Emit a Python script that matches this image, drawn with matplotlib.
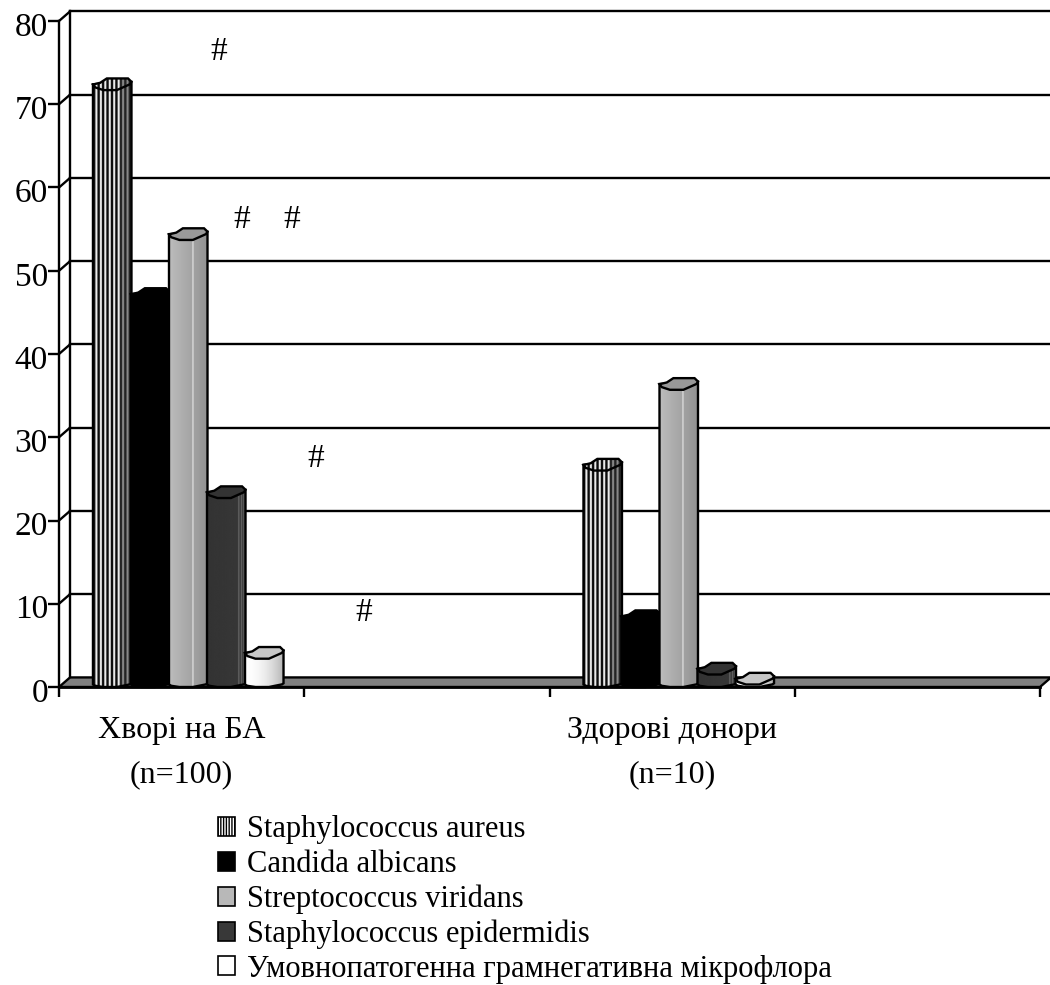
# _*_ coding: utf-8 _*_
import numpy as np
import matplotlib
matplotlib.use('Agg')
import matplotlib.pyplot as plt
from matplotlib.patches import Patch, Polygon
from matplotlib.transforms import ScaledTranslation

plt.rcParams['font.family'] = ['Liberation Serif', 'DejaVu Serif']

groups = ['Хворі на БА\n(n=100)', 'Здорові донори\n(n=10)']
series = ['Staphylococcus aureus', 'Candida albicans', 'Streptococcus viridans',
          'Staphylococcus epidermidis', 'Умовнопатогенна грамнегативна мікрофлора']
patients = [71.7, 46.5, 53.7, 22.7, 3.4]
donors = [26, 7.8, 35.7, 1.5, 0.3]
yticks = [0, 10, 20, 30, 40, 50, 60, 70, 80]
marks_x = [0.653, 0.747, 0.947, 1.045, 1.241]
marks_y = [76.3, 56.1, 56.1, 27.4, 8.9]

W, H = 1050, 985
dx, dy = 0.045, 1.15      # depth of the 3d box
bw = 0.157
step = 0.155
ch = 1.4                  # height of the cap
lw = 1.7

# outline of the cap, the same for all bars (fractions of bar width / cap height)
cap_u = np.array([0, .06, .27, .62, .96, 1, .91, .36, .19])
cap_v = np.array([.48, .23, 0, 0, .5, .71, 1, 1, .63])

fig = plt.figure(figsize=(W / 100, H / 100), dpi=100)
ax = fig.add_axes([59 / W, 1 - 687 / H, 981 / W, 666 / H])
ax.set_xlim(0, 4)
ax.set_ylim(0, 80)
for s in ax.spines.values():
    s.set_visible(False)


def body_shade(kind):
    n = 114
    t = (np.arange(n) + 0.5) / n
    if kind == 0:
        g = np.where((t * 8.8) % 1 < 0.55, 0.05, 0.92)
        g = np.where(t > 0.68, g * 0.45 + 0.12, g)
        g = np.where(t < 0.04, 0.1, g)
    elif kind == 1:
        g = np.zeros(n)
    elif kind == 2:
        g = 0.74 - 0.17 * t
        g = np.where((t > 0.6) & (t < 0.63), 0.85, g)
    elif kind == 3:
        g = 0.2 + 0.02 * t
        g = np.where((t > 0.78) & (np.floor(t * 30) % 2 == 0), 0.38, g)
    else:
        g = 1.0 - 0.3 * t ** 2
    return g[None, :]


cap_col = ['0.6', '0', '0.6', '0.2', '0.78']


def cylinder(xc, val, kind, z):
    base = ch / 2
    top = val + base
    x0 = xc - bw / 2
    # flatter curve at the foot than at the top
    xs = np.r_[x0 + bw * cap_u[:6], x0 + bw, x0]
    ys = np.r_[ch * 0.45 * cap_v[:6], top + ch * .2, top]
    poly = Polygon(np.c_[xs, ys], closed=True, fc='none', ec='black', lw=lw, zorder=z + 0.2, clip_on=False)
    ax.add_patch(poly)
    im = ax.imshow(body_shade(kind), extent=[x0, x0 + bw, 0, top + ch], cmap='gray', vmin=0, vmax=1,
                   aspect='auto', zorder=z, interpolation='antialiased')
    im.set_clip_path(poly)
    cap = Polygon(np.c_[x0 + bw * cap_u, top + ch * (cap_v - .5)], closed=True, fc=cap_col[kind], ec='black',
                  lw=lw, zorder=z + 0.3, clip_on=False)
    ax.add_patch(cap)
    if kind == 0:
        # striped top of the first series
        im2 = ax.imshow(body_shade(0), extent=[x0, x0 + bw, top - ch, top + ch], cmap='gray', vmin=0, vmax=1,
                        aspect='auto', zorder=z + 0.25, interpolation='antialiased')
        cap.set_facecolor('none')
        im2.set_clip_path(cap)


# walls, floor and grid
ax.add_patch(Polygon([[0, 0], [4, 0], [4 + dx, dy], [dx, dy]], closed=True, fc='#808080', ec='black', lw=lw,
                     zorder=1, clip_on=False))
ax.plot([0, 4], [0, 0], color='black', lw=2, zorder=1.5, clip_on=False)
ax.plot([0, 0], [0, 80], color='black', lw=lw, zorder=1.5, clip_on=False)
ax.plot([dx, dx], [dy, 80 + dy], color='black', lw=lw, zorder=1.5, clip_on=False)
for v in yticks[1:]:
    ax.plot([dx, 4 + dx], [v + dy, v + dy], color='black', lw=lw, zorder=1, clip_on=False)
    ax.plot([0, dx], [v, v + dy], color='black', lw=lw, zorder=1, clip_on=False)

for g, vals in enumerate([patients, donors]):
    for j, v in enumerate(vals):
        cylinder(2 * g + 0.5 + 0.6 * dx + (j - 2) * step, v, j, 2 + j)

ax.set_xlim(0, 4)
ax.set_ylim(0, 80)
ax.set_yticks(yticks)
ax.set_xticks([0, 1, 2, 3, 4])
ax.set_xticklabels([])
ax.set_xticks([0.5, 2.5], labels=groups, minor=True)
ax.tick_params(axis='x', which='major', length=7, width=lw)
ax.tick_params(axis='x', which='minor', length=0, pad=21, labelsize=23)
ax.tick_params(axis='y', length=8, width=lw, pad=0, labelsize=24)
for t in ax.get_xminorticklabels():
    t.set_linespacing(1.7)
# the numbers sit a little under their ticks
for t in ax.get_yticklabels():
    t.set_transform(t.get_transform() + ScaledTranslation(0, -3 / 100, fig.dpi_scale_trans))

for x, y in zip(marks_x, marks_y):
    ax.text(x, y, '#', fontsize=24, ha='center', va='center', zorder=10)

handles = [Patch(fc='white', ec='black', hatch='||||||', lw=1.2), Patch(fc='black', ec='black', lw=1.2),
           Patch(fc='#b8b8b8', ec='black', lw=1.2), Patch(fc='#383838', ec='black', lw=1.2),
           Patch(fc='white', ec='black', lw=1.2)]
fig.legend(handles, series, loc='upper left', bbox_to_anchor=(190 / W, 1 - 788 / H), frameon=False, fontsize=22,
           labelspacing=0.18, handlelength=0.56, handleheight=0.56, handletextpad=0.39, borderpad=0.4)

fig.savefig('out.png', dpi=100)
